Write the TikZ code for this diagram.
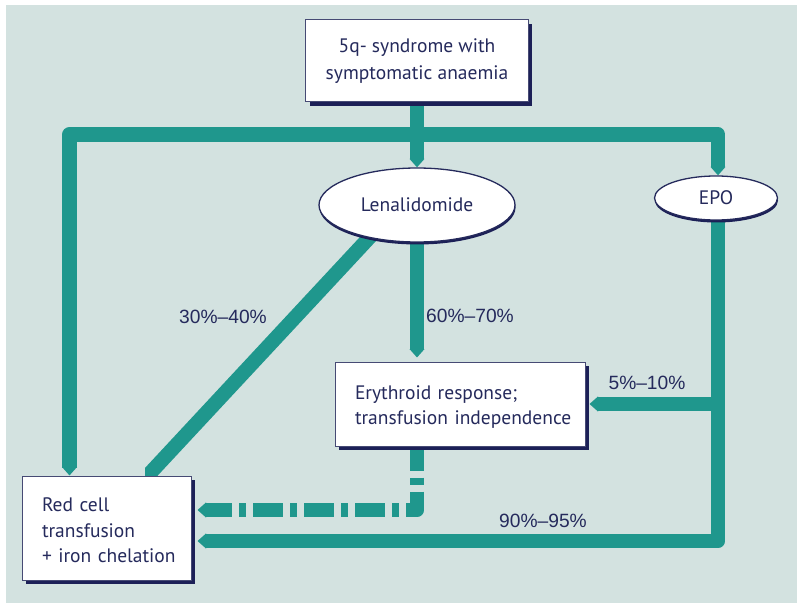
\documentclass[tikz,border=0pt]{standalone}
\usepackage{fontspec}
\setmainfont{PT Sans}
\newfontfamily\pctfont{Liberation Sans}
\usetikzlibrary{arrows.meta,shapes.geometric,shadows,calc}

\definecolor{panel}{HTML}{D3E2E0}
\definecolor{flowc}{HTML}{1F978D}
\definecolor{ink}{HTML}{252A5C}
\definecolor{shade}{HTML}{1C2057}

\pgfdeclarelayer{back}
\pgfdeclarelayer{lines}
\pgfsetlayers{back,lines,main}

\tikzset{
  flow/.style={draw=flowc, line width=14.5pt, line join=round},
  tip/.style={-{Triangle[width=14.5pt,length=8.5pt]}},
  boxtext/.style={text=ink, font=\fontsize{19.5}{25.5}\selectfont},
  box/.style={boxtext, rectangle, draw=ink!85, line width=1pt, fill=white,
    inner xsep=20pt, inner ysep=0pt,
    drop shadow={shadow xshift=4pt, shadow yshift=-4pt, fill=shade, draw=none, opacity=1}},
  oval/.style={boxtext, ellipse, draw=ink, line width=1.3pt, fill=white, inner sep=0pt,
    drop shadow={shadow xshift=0.5pt, shadow yshift=-2.5pt, fill=shade, draw=none, opacity=1}},
  pct/.style={text=ink, font=\pctfont\fontsize{19.2}{23}\selectfont},
  % a tall strut on the first line moves a text block down inside its box
  lowerby/.style={execute at begin node={\rule{0pt}{#1}}},
}

\begin{document}
\begin{tikzpicture}[x=1pt,y=-1pt]
\useasboundingbox (0,0) rectangle (798,604);
\begin{pgfonlayer}{back}
  \fill[white] (0,0) rectangle (798,604);
  \fill[panel] (6,5) rectangle (797,603);
\end{pgfonlayer}

% boxes and ovals
\node[box, align=center, minimum width=221pt, minimum height=82pt, lowerby=19pt,
      font=\fontsize{19.5}{27}\selectfont] (top) at (417,61)
  {5q- syndrome with\\symptomatic anaemia};
\node[oval, minimum width=196pt, minimum height=74pt] (len) at (417,205) {Lenalidomide};
\node[oval, minimum width=123pt, minimum height=44pt] (epo) at (716,198) {EPO};
\node[box, align=left, text width=210pt, minimum height=84pt, lowerby=20pt] (ery) at (460,404)
  {\mbox{Erythroid response;}\\\mbox{transfusion independence}};
\node[box, align=left, text width=129pt, minimum height=104pt, lowerby=19pt] (rbc) at (106.5,528)
  {\mbox{Red cell}\\\mbox{transfusion}\\\mbox{+ iron chelation}};

% percentages
\node[pct] (p3040) at (223,317) {30\%–40\%};
\node[pct] (p6070) at (470,316) {60\%–70\%};
\node[pct] (p510) at (647,383) {5\%–10\%};
\node[pct] (p9095) at (543,521) {90\%–95\%};

% junction points of the thick connectors
\coordinate (tl) at (69.5,134.5);
\coordinate (tr) at (718,134.5);
\coordinate (dd) at (417,510);
\coordinate (bot) at (718,541);

\begin{pgfonlayer}{lines}
  % top box to lenalidomide
  \draw[flow, tip] (top.south) -- (len.north);
  % branch to transfusion on the left and EPO on the right
  \draw[flow, {Triangle[width=14.5pt,length=8.5pt]}-{Triangle[width=14.5pt,length=8.5pt]}]
    (rbc.north -| tl) -- (tl) -- (tr) -- (tr |- epo.north);
  % lenalidomide outcomes
  \draw[flow, tip, shorten >=4pt] (len.south) -- (len.south |- ery.north);
  \begin{scope}
    \clip (145,0) rectangle (798,604);
    \draw[flow] ([xshift=-17.4pt]len.center) -- ([xshift=33pt,yshift=-9pt]rbc.north);
  \end{scope}
  % relapse after erythroid response
  \draw[flow, tip, dash pattern=on 30pt off 7pt on 7pt off 7pt, dash phase=6pt, shorten >=6pt]
    (len.south |- ery.south) -- (dd) -- (rbc.east |- dd);
  % EPO outcomes
  \draw[flow, tip, shorten >=6pt] (tr |- epo.south) -- (bot) -- (rbc.east |- bot);
  \draw[flow, tip, shorten >=4pt] (tr |- ery.east) -- (ery.east);
\end{pgfonlayer}
\end{tikzpicture}
\end{document}
